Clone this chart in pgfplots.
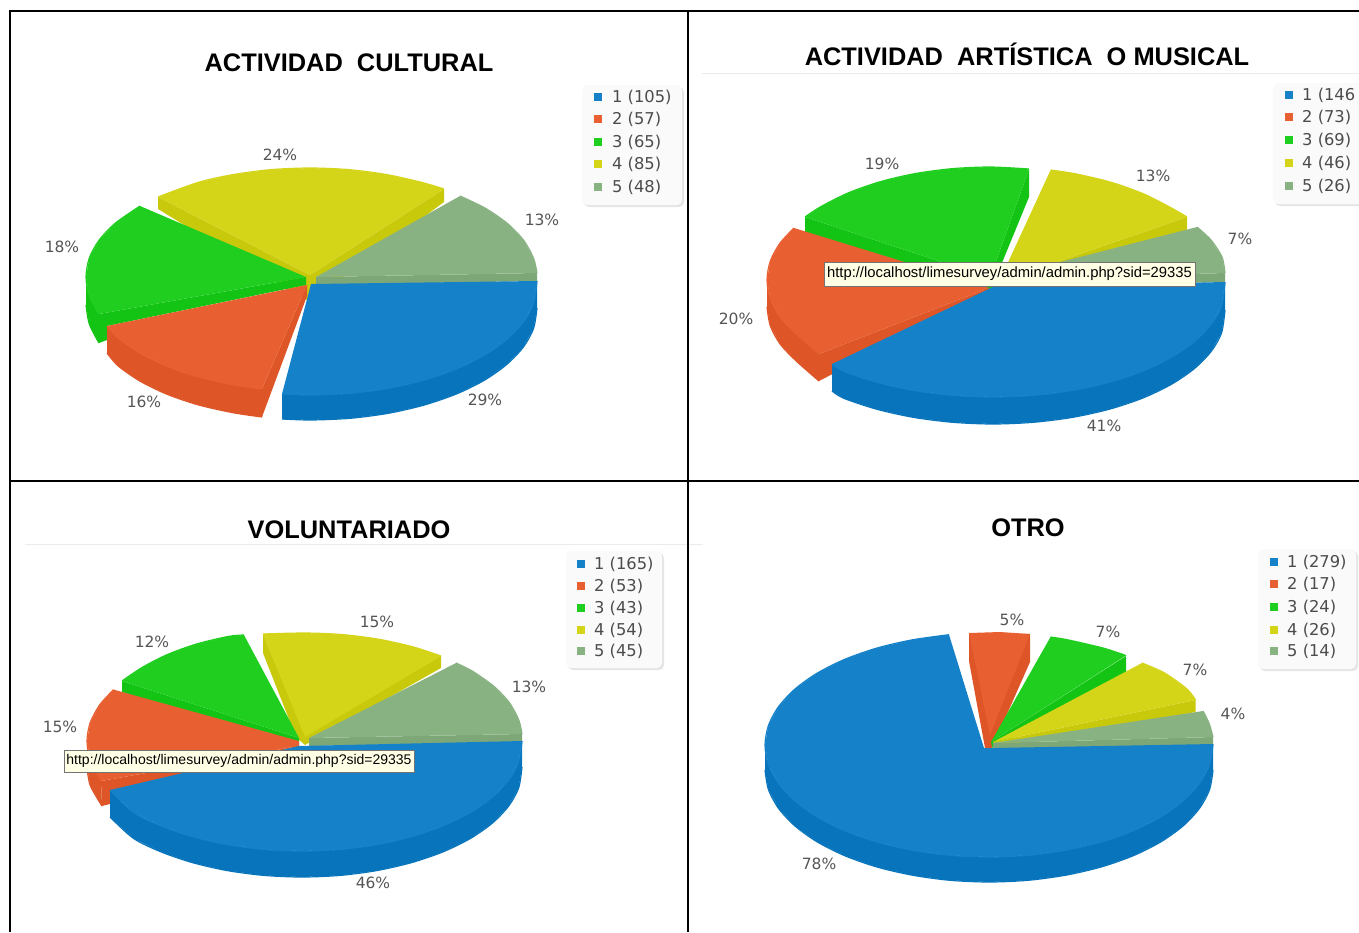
\documentclass[border=0pt]{standalone}
\usepackage{pgfplots}
\pgfplotsset{compat=1.18}
\usepackage{fontspec}
\setmainfont{Liberation Sans}
\newfontfamily\lab{DejaVu Sans}
\definecolor{bt}{HTML}{1581C9}\definecolor{bs}{HTML}{0774BC}
\definecolor{rt}{HTML}{E86032}\definecolor{rs}{HTML}{DE5527}
\definecolor{gt}{HTML}{20CE20}\definecolor{gs}{HTML}{14C414}
\definecolor{yt}{HTML}{D4D419}\definecolor{ys}{HTML}{C9C90C}
\definecolor{ot}{HTML}{89B283}\definecolor{os}{HTML}{7EA778}
\definecolor{txt}{HTML}{555555}
\definecolor{tipbg}{HTML}{FFFFE6}
\newcommand{\poly}[2]{\addplot[fill=#1,draw=none,forget plot] coordinates {#2} -- cycle;}
\newcommand{\sector}[3]{\addplot[fill=#1,draw=none,forget plot] coordinates {#2 #3} -- cycle;
 \addplot[#1,smooth,line width=1.2pt,forget plot] coordinates {#3};}
\newcommand{\band}[3]{\addplot[fill=#1,draw=none,forget plot] coordinates {#2 #3} -- cycle;
 \addplot[#1,smooth,line width=1.2pt,forget plot] coordinates {#3};}
\newcommand{\ttl}[3]{\node[font=\fontsize{25.4}{25.4}\selectfont\bfseries,text=black,inner sep=0pt,anchor=base] at (axis cs:#1,#2) {#3};}
\newcommand{\pct}[3]{\node[font=\lab\fontsize{15.5}{15.5}\selectfont,text=txt,inner sep=0pt] at (axis cs:#1,#2) {#3};}
\newcommand{\legtext}[3]{\node[font=\lab\fontsize{16.3}{16.3}\selectfont,text=txt!90!black,inner sep=0pt,anchor=west] at (axis cs:#1,#2) {#3};}
\newcommand{\legbox}[4]{%
 \fill[black!10,rounded corners=5pt] (axis cs:#1+2,#3+2) rectangle (axis cs:#2+2,#4+2);
 \fill[black!2,rounded corners=5pt] (axis cs:#1,#3) rectangle (axis cs:#2,#4);}
\newcommand{\swatch}[3]{\addplot[only marks,mark=square*,mark size=3.6pt,color=#1,forget plot] coordinates {(#2,#3)};}
\newcommand{\tip}[6]{%
 \filldraw[fill=tipbg,draw=black!55,line width=1pt] (axis cs:#1,#3) rectangle (axis cs:#2,#4);
 \node[font=\fontsize{#6}{#6}\selectfont,text=black,inner sep=0pt] at (axis cs:#1/2+#2/2,#3/2+#4/2) {#5};}
\begin{document}
\begin{tikzpicture}
\begin{axis}[hide axis,scale only axis,width=1359pt,height=932pt,
 xmin=0,xmax=1359,ymin=0,ymax=932,y dir=reverse,clip=true]
\useasboundingbox (axis cs:0,0) rectangle (axis cs:1359,932);
% ---------- frame
\addplot[black,line width=2pt,forget plot] coordinates {(9,10.5)(1359,10.5)};
\addplot[black,line width=2pt,forget plot] coordinates {(9,481)(1359,481)};
\addplot[black,line width=2pt,forget plot] coordinates {(10,10)(10,932)};
\addplot[black,line width=2pt,forget plot] coordinates {(688,10)(688,932)};
\addplot[black!8,line width=1pt,forget plot] coordinates {(702,73)(1359,73)};
\addplot[black!8,line width=1pt,forget plot] coordinates {(25,544)(687,544)};
\addplot[black!8,line width=1pt,forget plot] coordinates {(689,544)(703,544)};
% ---------- chart 1
\poly{ys}{(158,197)(158,209)(310,302)(444,202)(444,189)(310,275)}
\sector{yt}{(310,275)}{(444,189)(421.5,182.3)(386.3,174.5)(348.7,169.6)(310,168)(271.3,169.6)(233.7,174.5)(198.5,182.3)(158,197)}
\poly{os}{(316,277)(537,273)(537,281)(316,285)}
\sector{ot}{(316,277)}{(537,273)(533.6,258.4)(523.7,240.4)(507.4,223.5)(485.3,208.2)(460,196)}
\poly{gs}{(99,314)(306,277)(306,285)(107,326)(107,340)(99,343)}
\band{gs}{(86,277)(89.3,295.8)(99,314)}{(99,343)(89.3,324)(86,305)}
\sector{gt}{(306,277)}{(99,314)(89.3,295.8)(86,277)(89.3,258)(99.2,240)(115.5,223)(140,206)}
\band{rs}{(107,326)(118.2,338)(140,353.1)(166.9,366.2)(198,376.8)(232.4,384.6)(262,389)}{(262,417)(232.4,412.6)(198,404.8)(166.9,394.2)(140,381.1)(118.2,366)(107,353)}
\poly{rs}{(262,389)(307,285)(307,296)(262,417)}
\sector{rt}{(307,285)}{(107,326)(118.2,338)(140,353.1)(166.9,366.2)(198,376.8)(232.4,384.6)(262,389)}
\band{bs}{(537,282)(533.6,303.3)(523.4,322)(506.7,339.5)(484.1,355.4)(456.3,369)(424,380.1)(388.3,388.3)(350.2,393.3)(311,395)(282,394)}{(282,419)(311,420)(350.2,418.3)(388.3,413.3)(424,405.1)(456.3,394)(484.1,380.4)(506.7,364.5)(523.4,347)(533.6,328.3)(537,308)}
\sector{bt}{(311,284)}{(537,281)(533.6,303.3)(523.4,322)(506.7,339.5)(484.1,355.4)(456.3,369)(424,380.1)(388.3,388.3)(350.2,393.3)(311,395)(282,394)}
\ttl{349}{71}{ACTIVIDAD\ \ CULTURAL}
\pct{280}{155}{24\%}\pct{542}{220}{13\%}\pct{62}{247}{18\%}\pct{144}{402}{16\%}\pct{485}{400}{29\%}
\legbox{582}{682}{85}{205}
\swatch{bt}{598}{97}\swatch{rt}{598}{119}\swatch{gt}{598}{142}\swatch{yt}{598}{164}\swatch{ot}{598}{187}
\legtext{612}{97}{1 (105)}\legtext{612}{119}{2 (57)}\legtext{612}{142}{3 (65)}\legtext{612}{164}{4 (85)}\legtext{612}{187}{5 (48)}
% ---------- chart 2
\poly{ys}{(1187,217)(1187,230)(1000,290)(999,282)}
\sector{yt}{(999,282)}{(1187,217)(1171.4,208)(1143.6,193.9)(1111.5,182.4)(1076,173.9)(1050.6,170)}
\poly{os}{(1225,273)(1225,282)(990,288)(990,280)}
\sector{ot}{(990,280)}{(1225,273)(1222,257)(1211,240)(1197,227)}
\poly{gs}{(805,217)(805,232)(990,292)(1029,197)(1029,169)(990,278)}
\sector{gt}{(990,278)}{(1029,169)(990,167)(951.6,168.7)(914.4,173.7)(879.5,181.9)(848,193)(820.7,206.7)(805,217)}
\band{rs}{(767,280)(770.3,298.8)(780.1,317)(796.2,334)(819,354)}{(819,381)(796.2,361)(780.1,344)(770.3,325.8)(767,307)}
\poly{rs}{(819,354)(989,288)(991,292)(819,381)}
\sector{rt}{(989,288)}{(794,228)(780.1,243)(770.3,261)(767,280)(770.3,298.8)(780.1,317)(796.2,334)(819,354)}
\band{bs}{(1225,283)(1221.5,306.1)(1211,324.6)(1193.9,342)(1170.7,357.7)(1142.2,371.3)(1109,382.3)(1072.3,390.4)(1033.4,395.3)(993,397)(952.6,395.3)(913.7,390.4)(877,382.3)(843.8,371.3)(832,364)}{(832,391)(843.8,398.3)(877,409.3)(913.7,417.4)(952.6,422.3)(993,424)(1033.4,422.3)(1072.3,417.4)(1109,409.3)(1142.2,398.3)(1170.7,384.7)(1193.9,369)(1211,351.6)(1221.5,333.1)(1225,310)}
\sector{bt}{(993,287)}{(1225,282)(1221.5,306.1)(1211,324.6)(1193.9,342)(1170.7,357.7)(1142.2,371.3)(1109,382.3)(1072.3,390.4)(1033.4,395.3)(993,397)(952.6,395.3)(913.7,390.4)(877,382.3)(843.8,371.3)(832,364)}
\tip{824}{1195}{262}{286}{http://localhost/limesurvey/admin/admin.php?sid=29335}{14.8}
\ttl{1027}{65}{ACTIVIDAD\ \ ARTÍSTICA\ \ O MUSICAL}
\pct{882}{164}{19\%}\pct{1153}{176}{13\%}\pct{1240}{239}{7\%}\pct{736}{319}{20\%}\pct{1104}{426}{41\%}
\legbox{1273}{1365}{83}{204}
\swatch{bt}{1289}{95}\swatch{rt}{1289}{117}\swatch{gt}{1289}{140}\swatch{yt}{1289}{163}\swatch{ot}{1289}{186}
\legtext{1302}{95}{1 (146}\legtext{1302}{117}{2 (73)}\legtext{1302}{140}{3 (69)}\legtext{1302}{163}{4 (46)}\legtext{1302}{186}{5 (26)}
% ---------- chart 3
\poly{ys}{(441,656)(441,668)(305,745)(296,737)(263,653)(263,634)(305,735)}
\sector{yt}{(305,737)}{(441,656)(413.5,647)(379.2,639.3)(342.7,634.6)(305,633)(263,634)}
\poly{os}{(309,738)(522,734)(522,742)(309,746)}
\sector{ot}{(309,738)}{(522,734)(518.8,720)(509.2,702.4)(493.5,686)(472.2,671)(456,663)}
\poly{gs}{(122,681)(122,692)(299,750)(299,738)}
\sector{gt}{(299,738)}{(122,681)(142,667.5)(167.2,654.6)(196.5,644)(228.9,636.3)(244,635)}
\band{rs}{(87,741)(90.2,759.4)(101,781)}{(102,806)(90.2,785.4)(87,767)}
\poly{rs}{(101,781)(299,746)(299,755)(102,806)}
\sector{rt}{(299,746)(299,741)}{(113.6,689.6)(99.8,704.7)(90.2,722.6)(87,741)(90.2,759.4)(101,781)}
\band{bs}{(522,741)(518.7,761.8)(508.7,780)(492.5,797)(470.5,812.4)(443.4,825.7)(412,836.5)(377.2,844.5)(340.2,849.4)(302,851)(263.8,849.4)(226.8,844.5)(192,836.5)(160.6,825.7)(133.5,812.4)(110,790)}{(110,817)(133.5,838.4)(160.6,851.7)(192,862.5)(226.8,870.5)(263.8,875.4)(302,877)(340.2,875.4)(377.2,870.5)(412,862.5)(443.4,851.7)(470.5,838.4)(492.5,823)(508.7,806)(518.7,787.8)(522,767)}
\sector{bt}{(299,746)}{(522,741)(518.7,761.8)(508.7,780)(492.5,797)(470.5,812.4)(443.4,825.7)(412,836.5)(377.2,844.5)(340.2,849.4)(302,851)(263.8,849.4)(226.8,844.5)(192,836.5)(160.6,825.7)(133.5,812.4)(110,790)}
\tip{64}{414}{750}{772}{http://localhost/limesurvey/admin/admin.php?sid=29335}{14}
\ttl{349}{538}{VOLUNTARIADO}
\pct{377}{622}{15\%}\pct{152}{642}{12\%}\pct{529}{687}{13\%}\pct{60}{727}{15\%}\pct{373}{883}{46\%}
\legbox{566}{662}{551}{668}
\swatch{bt}{581}{564}\swatch{rt}{581}{586}\swatch{gt}{581}{608}\swatch{yt}{581}{630}\swatch{ot}{581}{651}
\legtext{594}{564}{1 (165)}\legtext{594}{586}{2 (53)}\legtext{594}{608}{3 (43)}\legtext{594}{630}{4 (54)}\legtext{594}{651}{5 (45)}
% ---------- chart 4
\poly{rs}{(969,633)(969,661)(985,748)(992,748)(1030,662)(1030,634)}
\poly{rt}{(990,735)(969,633)(1000,632)(1030,634)}
\poly{gs}{(1126,656)(1126,672)(993,750)(991,742)}
\sector{gt}{(991,742)}{(1126,655.5)(1103,648)(1067.6,639.8)(1050.5,637)}
\poly{ys}{(1195.5,700)(1195.5,712)(993,750)(993,742)}
\sector{yt}{(993,742)}{(1195.5,700)(1187,689)(1164.6,673)(1142,663)}
\poly{os}{(993,743)(1213,737)(1213,745)(993,750)}
\sector{ot}{(993,743)}{(1213,737)(1209,723)(1203,711)}
\band{bs}{(1213,745)(1209.6,764.4)(1199.5,783.3)(1183,801)(1160.6,817)(1133,830.8)(1101,842)(1065.6,850.2)(1028,855.3)(989,857)(950,855.3)(912.4,850.2)(877,842)(845,830.8)(817.4,817)(795,801)(778.5,783.3)(768.4,764.4)(765,745)}{(765,770)(768.4,789.4)(778.5,808.3)(795,826)(817.4,842)(845,855.8)(877,867)(912.4,875.2)(950,880.3)(989,882)(1028,880.3)(1065.6,875.2)(1101,867)(1133,855.8)(1160.6,842)(1183,826)(1199.5,808.3)(1209.6,789.4)(1213,770)}
\sector{bt}{(984,748)(993,748)}{(1213,744)(1209.6,764.4)(1199.5,783.3)(1183,801)(1160.6,817)(1133,830.8)(1101,842)(1065.6,850.2)(1028,855.3)(989,857)(950,855.3)(912.4,850.2)(877,842)(845,830.8)(817.4,817)(795,801)(778.5,783.3)(768.4,764.4)(765,745)(768.4,725.6)(778.5,706.7)(795,689)(817.4,673)(845,659.2)(877,648)(912.4,639.8)(949,634.7)}
\ttl{1028}{536}{OTRO}
\pct{1012}{620}{5\%}\pct{1108}{632}{7\%}\pct{1195}{670}{7\%}\pct{1233}{714}{4\%}\pct{819}{864}{78\%}
\legbox{1258}{1356}{549}{669}
\swatch{bt}{1274}{562}\swatch{rt}{1274}{584}\swatch{gt}{1274}{607}\swatch{yt}{1274}{630}\swatch{ot}{1274}{651}
\legtext{1287}{562}{1 (279)}\legtext{1287}{584}{2 (17)}\legtext{1287}{607}{3 (24)}\legtext{1287}{630}{4 (26)}\legtext{1287}{651}{5 (14)}
\end{axis}
\end{tikzpicture}
\end{document}
